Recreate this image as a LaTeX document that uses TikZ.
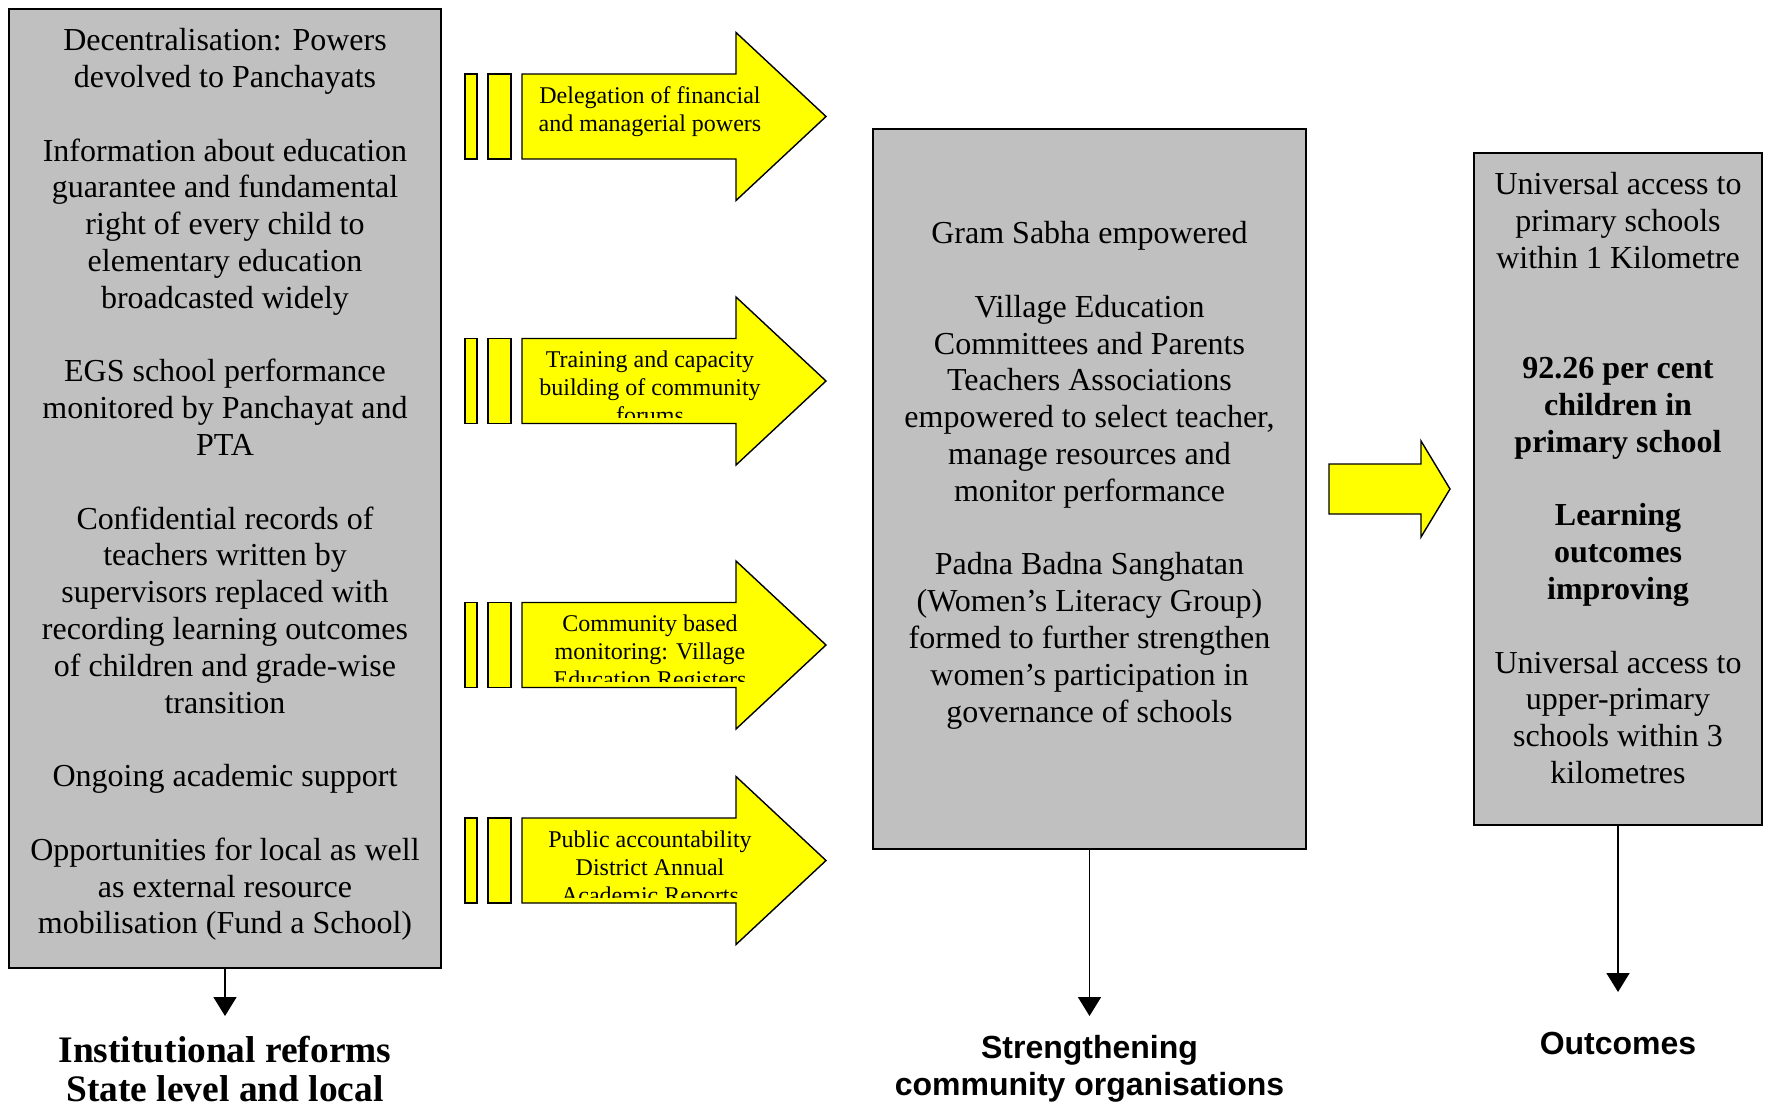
\documentclass[tikz,border=0pt]{standalone}
\usepackage{fontspec}
\setmainfont{Liberation Serif}
\newfontfamily\sansfam{Liberation Sans}
\usetikzlibrary{arrows.meta}
\definecolor{boxgray}{HTML}{C0C0C0}
\definecolor{arrowyellow}{HTML}{FFFF00}
\newcommand\reformarrow[3]{%
  \path[yarrow] (465,#1-42.5) rectangle (477,#1+42.5);
  \path[yarrow] (488,#1-42.5) rectangle (511,#1+42.5);
  \path[yarrow] (522,#1-42.5) -- (736,#1-42.5) -- (736,#1-84) -- (826,#1) -- (736,#1+84) -- (736,#1+42.5) -- (522,#1+42.5) -- cycle;
  \begin{scope}
    \clip (522,#1-40) rectangle (830,#1+36.5);
    \node[arrowtext] (#2) at (650,#1-30.5) {#3};
  \end{scope}
}
\begin{document}
\begin{tikzpicture}[x=0.5pt,y=-0.5pt,
  graybox/.style={draw=black, line width=0.7pt, fill=boxgray, inner sep=0pt},
  boxtext/.style={font=\fontsize{16}{18.4}\selectfont, align=center, inner sep=0pt, anchor=north},
  arrowtext/.style={font=\fontsize{12}{14}\selectfont, align=center, inner sep=0pt, anchor=north},
  yarrow/.style={draw=black, line width=0.7pt, fill=arrowyellow, line join=miter},
  downarrow/.style={draw=black, line width=0.8pt, -{Triangle[width=11.5pt,length=9.5pt]}},
  seriflabel/.style={font=\fontsize{18.7}{19.2}\selectfont\bfseries, align=center, inner sep=0pt, anchor=north},
  sanslabel/.style={font=\sansfam\fontsize{16}{18.5}\selectfont\bfseries, align=center, inner sep=0pt, anchor=north}
]
\useasboundingbox (0,0) rectangle (1765,1103);
\clip (0,0) rectangle (1765,1103);
\fill[white] (0,0) rectangle (1765,1103);

% boxes
\node[graybox, minimum width=216pt, minimum height=479.5pt] (instbox) at (225,488.5) {};
\node[graybox, minimum width=216.5pt, minimum height=360pt] (commbox) at (1089.5,489) {};
\node[graybox, minimum width=144pt, minimum height=336pt] (outbox) at (1618,489) {};

% box texts
\node[boxtext] (insttext) at (225,28) {Decentralisation: Powers\\devolved to Panchayats\\[18.4pt]
Information about education\\guarantee and fundamental\\right of every child to\\elementary education\\broadcasted widely\\[18.4pt]
EGS school performance\\monitored by Panchayat and\\PTA\\[18.4pt]
Confidential records of\\teachers written by\\supervisors replaced with\\recording learning outcomes\\of children and grade-wise\\transition\\[18.4pt]
Ongoing academic support\\[18.4pt]
Opportunities for local as well\\as external resource\\mobilisation (Fund a School)};

\node[boxtext] (commtext) at (1089.5,221) {Gram Sabha empowered\\[18.4pt]
Village Education\\Committees and Parents\\Teachers Associations\\empowered to select teacher,\\manage resources and\\monitor performance\\[18.4pt]
Padna Badna Sanghatan\\(Women’s Literacy Group)\\formed to further strengthen\\women’s participation in\\governance of schools};

\node[boxtext] (outtext) at (1618,172) {Universal access to\\primary schools\\within 1 Kilometre\\[36.8pt]
\textbf{92.26 per cent}\\\textbf{children in}\\\textbf{primary school}\\[18.4pt]
\textbf{Learning}\\\textbf{outcomes}\\\textbf{improving}\\[18.4pt]
Universal access to\\upper-primary\\schools within 3\\kilometres};

% striped arrows
\reformarrow{116.5}{arrA}{Delegation of financial\\and managerial powers}
\reformarrow{381}{arrB}{Training and capacity\\building of community\\forums}
\reformarrow{645}{arrC}{Community based\\monitoring: Village\\Education Registers}
\reformarrow{860.5}{arrD}{Public accountability\\District Annual\\Academic Reports}

% arrow from community box to outcomes box
\path[yarrow] (1329,464) -- (1421,464) -- (1421,441) -- (1450,489) -- (1421,537) -- (1421,514) -- (1329,514) -- cycle;

% bottom labels
\node[seriflabel] (instlabel) at (225,1036) {Institutional reforms\\State level and local};
\node[sanslabel] (commlabel) at (1089.5,1035) {Strengthening\\community organisations};
\node[sanslabel] (outlabel) at (1618,1032) {Outcomes};

\coordinate (insttip) at (225,1016);
\coordinate (commtip) at (1089.5,1016);
\coordinate (outtip) at (1618,992);
\draw[downarrow] (instbox.south) -- (insttip);
\draw[downarrow] (commbox.south) -- (commtip);
\draw[downarrow] (outbox.south) -- (outtip);
\end{tikzpicture}
\end{document}
